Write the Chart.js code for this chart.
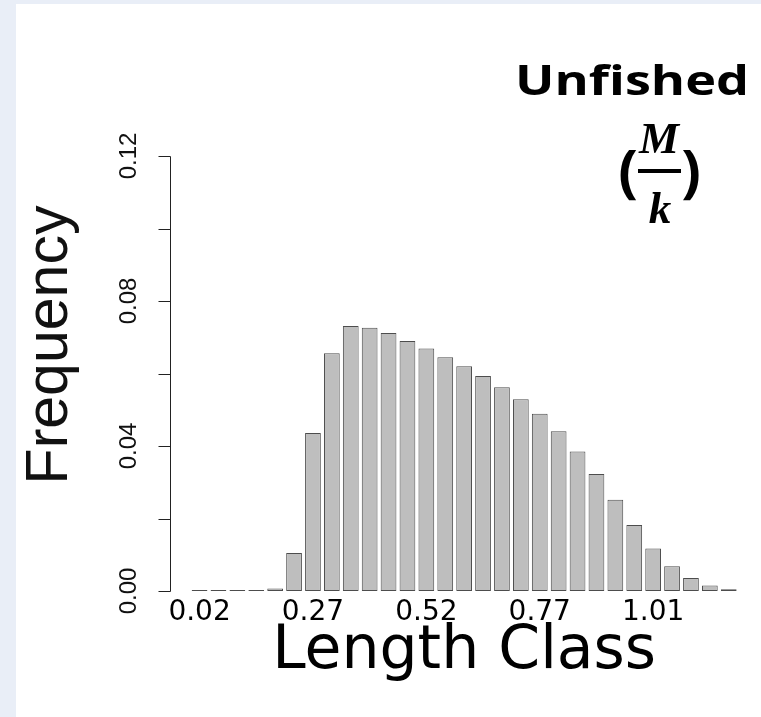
<!DOCTYPE html>
<html>
<head>
<meta charset="utf-8">
<title>Unfished length frequency</title>
<script src="https://cdn.jsdelivr.net/npm/chart.js@4.4.1/dist/chart.umd.min.js"></script>
<style>
  html, body { margin: 0; padding: 0; background: #e9eef7; }
  .panel { position: absolute; left: 16px; top: 4px; width: 745px; height: 713px; background: #fff; }
</style>
</head>
<body>
<div class="panel"><canvas id="chart-length-freq"></canvas></div>
<script>
// length classes (bin centres) and their relative frequency
const lengthClass = [
  0.02, 0.06, 0.10, 0.15, 0.19, 0.23, 0.27, 0.31, 0.35, 0.39,
  0.44, 0.48, 0.52, 0.56, 0.60, 0.64, 0.69, 0.73, 0.77, 0.81,
  0.85, 0.89, 0.93, 0.97, 1.01, 1.05, 1.09, 1.13, 1.17
];
const frequency = [
  0, 0, 0, 0, 0.0007, 0.0105, 0.0436, 0.0656, 0.0731, 0.0726,
  0.0712, 0.0690, 0.0669, 0.0645, 0.0620, 0.0593, 0.0562, 0.0529, 0.0489, 0.0441,
  0.0385, 0.0323, 0.0252, 0.0182, 0.0117, 0.0068, 0.0036, 0.0015, 0.0005
];
const freqTicks = [0, 0.02, 0.04, 0.06, 0.08, 0.10, 0.12];
const freqTickLabels = ['0.00', '', '0.04', '', '0.08', '', '0.12'];
const LABEL_EVERY = 6;

// base-graphics style y axis: detached line, outward ticks, labels parallel to the axis
const rStyleYAxis = {
  id: 'rStyleYAxis',
  afterDraw(chart) {
    const { ctx, chartArea, scales: { y } } = chart;
    const axisX = Math.round(chartArea.left - 20) + 0.5;
    const top = Math.round(y.getPixelForValue(freqTicks[freqTicks.length - 1])) + 0.5;
    const bottom = Math.round(y.getPixelForValue(freqTicks[0])) + 0.5;
    ctx.save();
    ctx.strokeStyle = '#222';
    ctx.lineWidth = 1;
    ctx.beginPath();
    ctx.moveTo(axisX, top);
    ctx.lineTo(axisX, bottom);
    freqTicks.forEach(v => {
      const py = Math.round(y.getPixelForValue(v)) + 0.5;
      ctx.moveTo(axisX - 12, py);
      ctx.lineTo(axisX, py);
    });
    ctx.stroke();

    ctx.fillStyle = '#111';
    ctx.textAlign = 'center';
    ctx.textBaseline = 'alphabetic';
    ctx.font = '24px "Liberation Sans", Arial, sans-serif';
    freqTicks.forEach((v, i) => {
      if (!freqTickLabels[i]) return;
      ctx.save();
      ctx.translate(axisX - 35, y.getPixelForValue(v));
      ctx.rotate(-Math.PI / 2);
      ctx.fillText(freqTickLabels[i], 0, 0);
      ctx.restore();
    });

    ctx.font = '59px "Liberation Sans", Arial, sans-serif';
    ctx.translate(51, 341);
    ctx.rotate(-Math.PI / 2);
    ctx.fillText('Frequency', 0, 0);
    ctx.restore();
  }
};

// scenario heading in the top right corner: "Unfished (M/k)"
const panelHeading = {
  id: 'panelHeading',
  afterDraw(chart) {
    const { ctx } = chart;
    ctx.save();
    ctx.fillStyle = '#000';
    ctx.textBaseline = 'alphabetic';

    ctx.save();
    ctx.textAlign = 'left';
    ctx.font = 'bold 42px "Open Sans", sans-serif';
    const w = ctx.measureText('Unfished').width;
    ctx.translate(499, 91);
    ctx.scale(234 / w, 1);
    ctx.fillText('Unfished', 0, 0);
    ctx.restore();

    ctx.textAlign = 'center';
    ctx.font = 'bold 58px "Open Sans", sans-serif';
    ctx.fillText('(', 612, 187);
    ctx.fillText(')', 675, 187);

    ctx.font = 'bold italic 45px "Liberation Serif", serif';
    ctx.fillText('M', 643, 149);
    ctx.fillText('k', 644, 219);
    ctx.fillRect(622, 165, 43, 4);
    ctx.restore();
  }
};

new Chart(document.getElementById('chart-length-freq'), {
  type: 'bar',
  plugins: [rStyleYAxis, panelHeading],
  data: {
    labels: lengthClass,
    datasets: [{
      data: frequency,
      backgroundColor: '#bebebe',
      borderColor: '#4d4d4d',
      borderWidth: 1,
      borderSkipped: false,
      minBarLength: 1,
      barPercentage: 0.833,
      categoryPercentage: 1,
    }]
  },
  options: {
    responsive: true, maintainAspectRatio: false,
    animation: false,
    layout: { padding: { top: 152, right: 22.8, bottom: 28.8, left: 174.1 } },
    plugins: { legend: { display: false }, tooltip: { enabled: false } },
    scales: {
      x: {
        grid: { display: false, drawTicks: false },
        border: { display: false },
        ticks: {
          autoSkip: false,
          maxRotation: 0,
          padding: 5,
          color: '#000',
          font: { family: '"DejaVu Sans"', size: 28 },
          callback: (val, i) => i % LABEL_EVERY === 0 ? lengthClass[i].toFixed(2) : '',
        },
        title: {
          display: true,
          text: 'Length Class',
          color: '#000',
          padding: 0,
          font: { family: '"DejaVu Sans"', size: 60 },
        },
        afterFit: scale => { scale.height = 97.2; },
      },
      y: {
        display: false,
        min: 0,
        max: 0.12,
      }
    }
  }
});
</script>
</body>
</html>
